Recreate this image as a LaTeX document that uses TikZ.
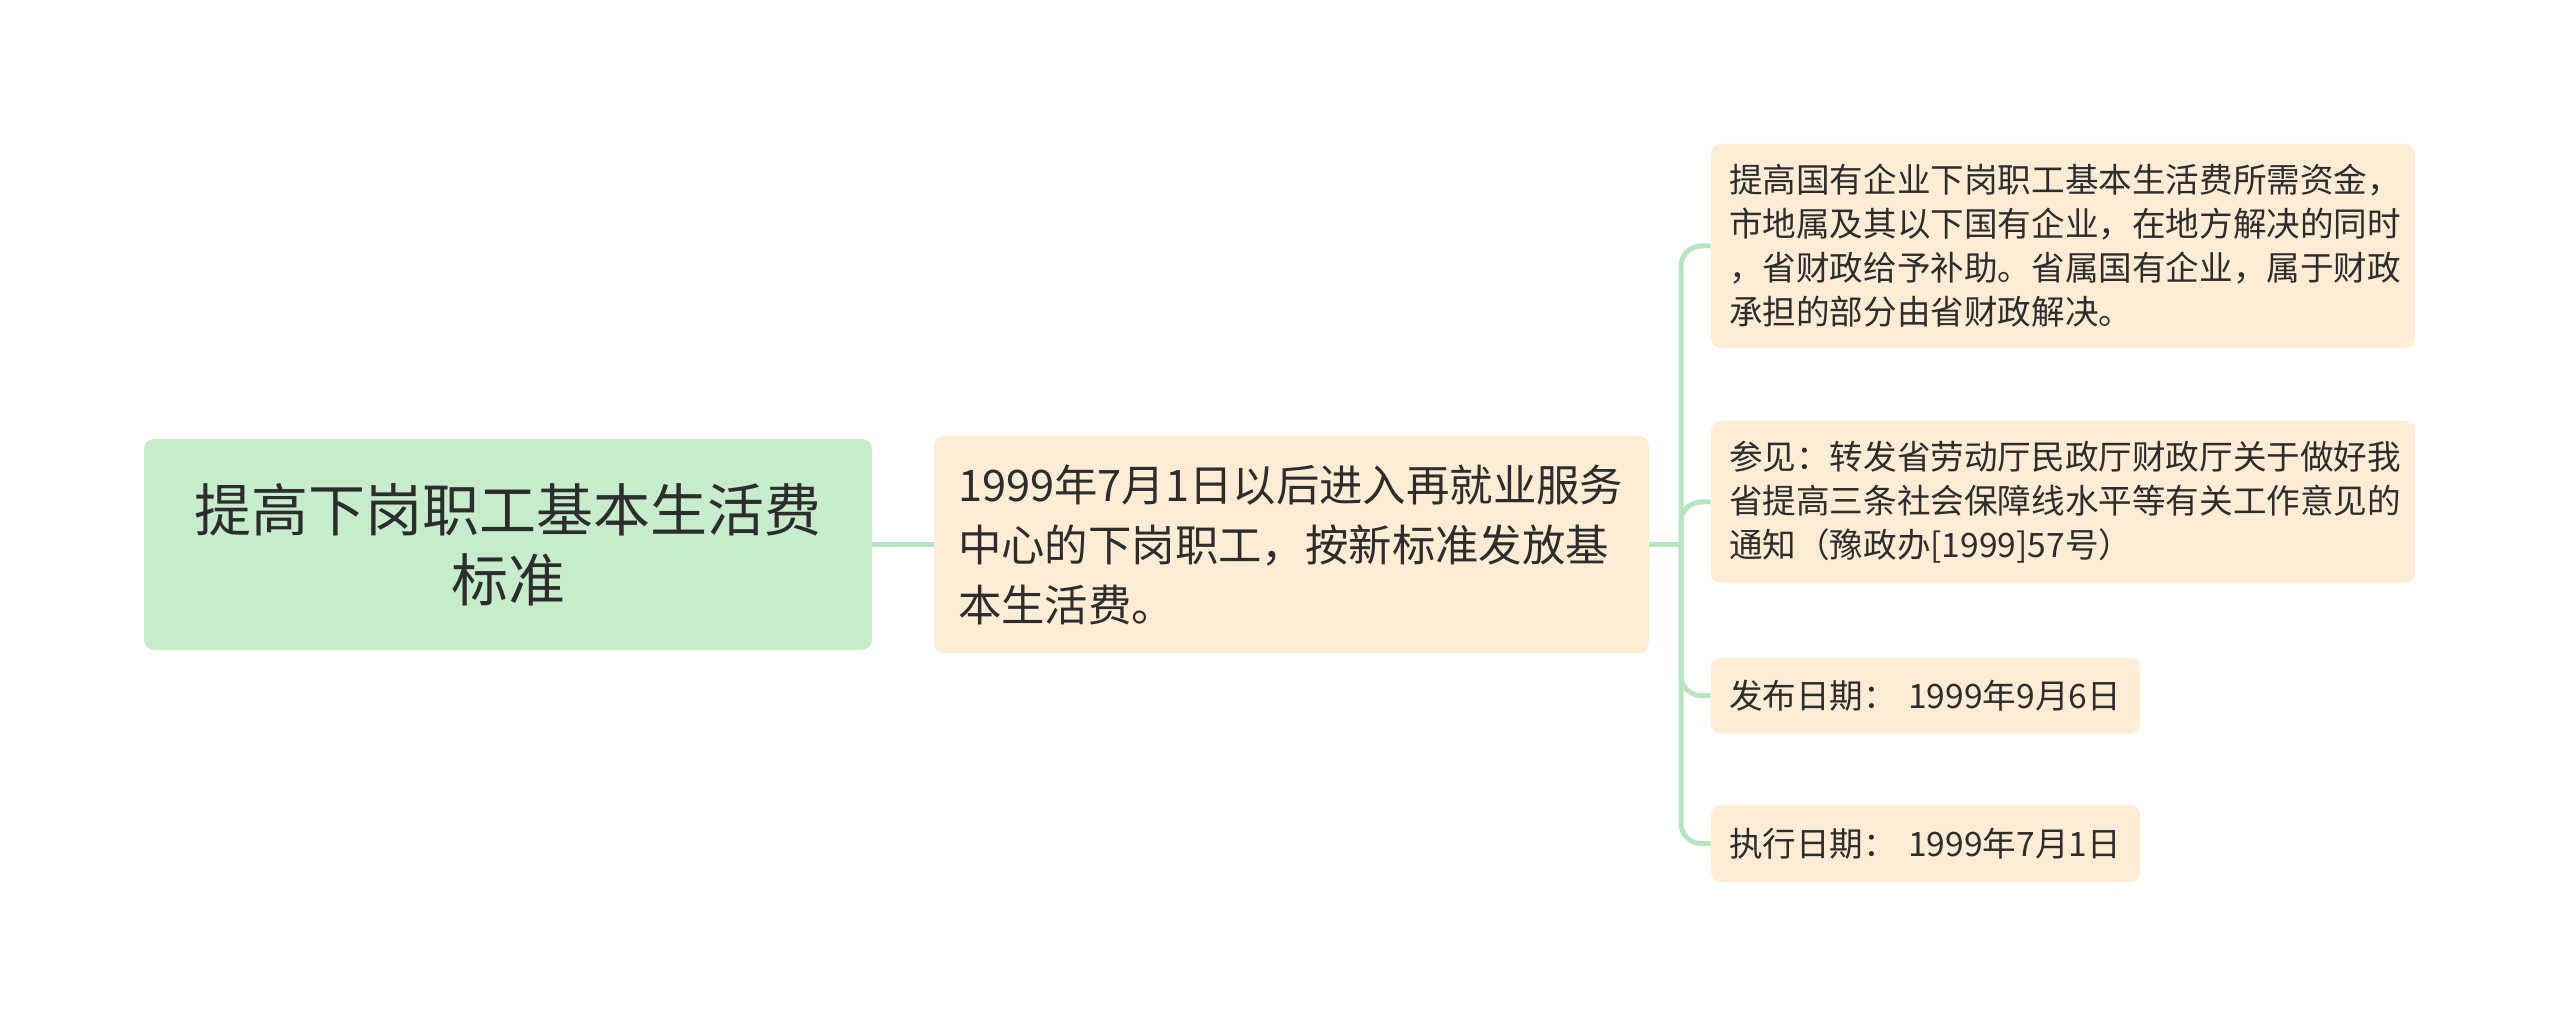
\documentclass[tikz,border=0pt]{standalone}
\usepackage{fontspec}
\setmainfont{Noto Sans CJK SC}
\usepackage{tikz}
\usetikzlibrary{positioning}

\definecolor{rootgreen}{RGB}{198,236,203}
\definecolor{leafpeach}{RGB}{254,236,213}
\definecolor{linkgreen}{RGB}{183,229,192}
\definecolor{inkgray}{RGB}{45,45,45}

\tikzset{
  rootbox/.style={fill=rootgreen, rounded corners=5pt, align=center, text=inkgray,
    minimum width=364pt, minimum height=105.5pt,
    font=\fontsize{28.5pt}{35pt}\selectfont},
  midbox/.style={fill=leafpeach, rounded corners=5pt, align=left, text=inkgray,
    text width=333.5pt, inner xsep=12pt, minimum height=108.5pt,
    font=\fontsize{21.7pt}{30pt}\selectfont},
  leafbox/.style={fill=leafpeach, rounded corners=5pt, align=left, text=inkgray,
    inner xsep=9pt, font=\fontsize{16.8pt}{22pt}\selectfont},
  link/.style={draw=linkgreen, line width=2.5pt}
}

\begin{document}
\begin{tikzpicture}[x=0.5pt, y=-0.5pt]
  \useasboundingbox (0,0) rectangle (2560,1026);

  % main topic and its one child
  \node[rootbox] (root) at (508,544.5) {提高下岗职工基本生活费\\标准};
  \node[midbox] (mid) at (1291.5,544.5)
    {1999年7月1日以后进入再就业服务\\中心的下岗职工，按新标准发放基\\本生活费。};

  % leaves
  \node[leafbox, text width=334pt, minimum height=102pt] (note) at (2063,246)
    {提高国有企业下岗职工基本生活费所需资金，\\市地属及其以下国有企业，在地方解决的同时\\，省财政给予补助。省属国有企业，属于财政\\承担的部分由省财政解决。};
  \node[leafbox, text width=334pt, minimum height=81pt] (ref) at (2063,502)
    {参见：转发省劳动厅民政厅财政厅关于做好我\\省提高三条社会保障线水平等有关工作意见的\\通知（豫政办[1999]57号）};
  \node[leafbox, text width=196.5pt, minimum height=38pt] (issued) at (1925.5,695.5)
    {发布日期：  1999年9月6日};
  \node[leafbox, text width=196.5pt, minimum height=38.5pt] (exec) at (1925.5,843.5)
    {执行日期：  1999年7月1日};

  % connectors
  \coordinate (trunk) at (1681,544.5);
  \draw[link] (root.east) -- (mid.west);
  \draw[link] (mid.east) -- (trunk);
  \foreach \leaf in {note, ref, issued, exec}
    \draw[link, rounded corners=10pt] (trunk) |- (\leaf.west);
\end{tikzpicture}
\end{document}
